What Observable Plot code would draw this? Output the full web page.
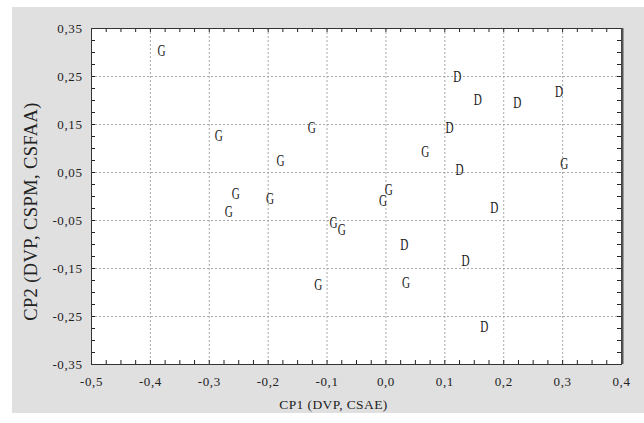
<!DOCTYPE html>
<html><head><meta charset="utf-8">
<script src="https://cdn.jsdelivr.net/npm/d3@7"></script>
<script src="https://cdn.jsdelivr.net/npm/@observablehq/plot@0.6"></script>
<style>
body{margin:0;background:#fff;}
#wrap{position:relative;width:644px;height:423px;overflow:hidden;}
#bg{position:absolute;left:12px;top:7px;width:632px;height:406px;background:#e0e0e0;}
#chart{position:absolute;left:0;top:0;}
</style></head><body>
<div id="wrap"><div id="bg"></div><div id="chart"></div></div>
<script>
// Data
const groups = ["G","G","G","G","G","G","G","G","G","G","G","G","G","G","G",
                "D","D","D","D","D","D","D","D","D","D"];
const cp1 = [-0.381,-0.284,-0.126,-0.179,-0.255,-0.197,-0.267,-0.115,0.067,0.303,0.005,-0.005,-0.089,-0.075,0.034,
             0.121,0.156,0.223,0.294,0.108,0.125,0.184,0.031,0.135,0.167];
const cp2 = [0.303,0.126,0.144,0.075,0.005,-0.005,-0.033,-0.185,0.093,0.068,0.013,-0.010,-0.054,-0.069,-0.180,
             0.250,0.202,0.195,0.219,0.144,0.055,-0.023,-0.100,-0.134,-0.271];
const xTicks = [-0.5,-0.4,-0.3,-0.2,-0.1,0.0,0.1,0.2,0.3,0.4];
const yTicks = [-0.35,-0.25,-0.15,-0.05,0.05,0.15,0.25,0.35];
const xTitle = "CP1 (DVP, CSAE)";
const yTitle = "CP2 (DVP, CSPM, CSFAA)";

const points = groups.map((g,i)=>({group:g, cp1:cp1[i], cp2:cp2[i]}));
const W=644, H=423, ml=91, mr=23, mt=28, mb=59;
const pw = W-ml-mr, ph = H-mt-mb;
const xMinor = d3.range(0, 37).map(i => +(xTicks[0] + i*0.025).toFixed(3));
const yMinor = d3.range(0, 29).map(i => +(yTicks[0] + i*0.025).toFixed(3));
const fmt = p => d => d3.format("."+p+"f")(d).replace("−","-").replace(".",",");
const tickColor = "#222";
const FF = "Liberation Serif";

const chart = Plot.plot({
  width: W, height: H,
  marginLeft: ml, marginRight: mr, marginTop: mt, marginBottom: mb,
  style: {background: "transparent", fontFamily: FF, color: "#222", overflow: "visible"},
  x: {domain: [-0.5, 0.4]},
  y: {domain: [-0.35, 0.35]},
  marks: [
    Plot.frame({fill: "white"}),
    Plot.ruleX(xTicks.slice(1,-1), {stroke: "#a8a8a8", strokeDasharray: "2,2"}),
    Plot.ruleY(yTicks.slice(1,-1), {stroke: "#a8a8a8", strokeDasharray: "2,2"}),
    Plot.ruleX(xMinor, {insetTop: ph-4, stroke: tickColor}),
    Plot.ruleX(xMinor, {insetBottom: ph-4, stroke: tickColor}),
    Plot.ruleY(yMinor, {insetRight: pw-4, stroke: tickColor}),
    Plot.ruleY(yMinor, {insetLeft: pw-4, stroke: tickColor}),
    Plot.frame({stroke: "#333"}),
    Plot.ruleX([0.4], {stroke: "#555", strokeWidth: 2, dx: 1}),
    Plot.axisX({ticks: xTicks, tickSize: 0, tickPadding: 12, tickFormat: fmt(1), fontSize: 13, fontFamily: FF, fill: "#222", label: null}),
    Plot.axisY({ticks: yTicks, tickSize: 0, tickPadding: 9, tickFormat: fmt(2), fontSize: 13, fontFamily: FF, fill: "#222", label: null}),
    Plot.text(points, {x: "cp1", y: "cp2", text: "group", fontSize: 16, fontFamily: FF, fill: "#1a1a1a"}),
    Plot.text([xTitle], {text: d => d, frameAnchor: "bottom", textAnchor: "middle", dy: 44, dx: -23, fontSize: 13.5, fontFamily: FF, fill: "#222"}),
    Plot.text([yTitle], {text: d => d, frameAnchor: "left", textAnchor: "middle", rotate: -90, dx: -60, dy: 15, fontSize: 18.5, fontFamily: FF, fill: "#222"})
  ]
});
document.getElementById("chart").appendChild(chart);
// condensed letters for the point labels (the 16px text group)
chart.querySelectorAll('g[font-size="16"] text').forEach(t => {
  t.setAttribute("transform", (t.getAttribute("transform")||"") + " scale(0.7,1)");
});
chart.querySelectorAll('g[font-size="13"]').forEach(g => g.setAttribute("letter-spacing", "0.6"));
chart.querySelectorAll('g[font-size="13.5"], g[font-size="18.5"]').forEach(g => g.setAttribute("letter-spacing", "0.4"));
</script>
</body></html>
